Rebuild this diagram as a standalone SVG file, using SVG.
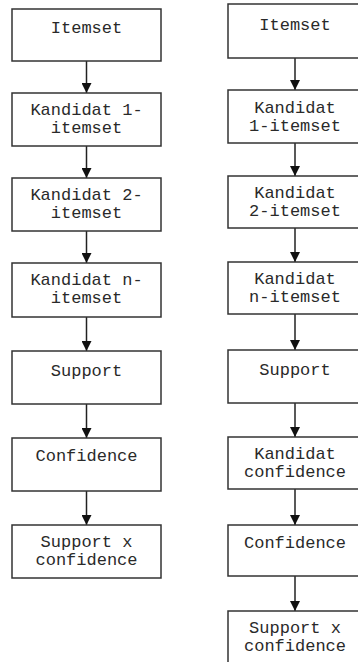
<svg xmlns="http://www.w3.org/2000/svg" width="358" height="662" viewBox="0 0 358 662">
<style>
.box{fill:#fff;stroke:#333;stroke-width:1.5}
.t{font-family:"Liberation Mono","Courier New",monospace;font-size:17px;fill:#2a2a2a;text-anchor:middle}
.c{stroke:#222;stroke-width:1.5;fill:none}
</style>
<defs>
<marker id="ah" markerWidth="10" markerHeight="10" refX="10" refY="5" orient="auto" markerUnits="userSpaceOnUse">
<path d="M0,0 L10,5 L0,10 Z" fill="#111"/>
</marker>
</defs>
<rect width="358" height="662" fill="#fff"/>
<g id="connectors">
<line class="c" x1="86.5" y1="61" x2="86.5" y2="93" marker-end="url(#ah)"/>
<line class="c" x1="86.5" y1="146" x2="86.5" y2="178" marker-end="url(#ah)"/>
<line class="c" x1="86.5" y1="231" x2="86.5" y2="263" marker-end="url(#ah)"/>
<line class="c" x1="86.5" y1="317" x2="86.5" y2="351" marker-end="url(#ah)"/>
<line class="c" x1="86.5" y1="404" x2="86.5" y2="438" marker-end="url(#ah)"/>
<line class="c" x1="86.5" y1="491" x2="86.5" y2="525" marker-end="url(#ah)"/>
<line class="c" x1="295" y1="58" x2="295" y2="90" marker-end="url(#ah)"/>
<line class="c" x1="295" y1="143" x2="295" y2="176" marker-end="url(#ah)"/>
<line class="c" x1="295" y1="228" x2="295" y2="262" marker-end="url(#ah)"/>
<line class="c" x1="295" y1="314" x2="295" y2="350" marker-end="url(#ah)"/>
<line class="c" x1="295" y1="403" x2="295" y2="437" marker-end="url(#ah)"/>
<line class="c" x1="295" y1="489" x2="295" y2="525" marker-end="url(#ah)"/>
<line class="c" x1="295" y1="576" x2="295" y2="611" marker-end="url(#ah)"/>
</g>
<g id="L1"><rect class="box" x="12" y="9" width="149" height="52"/><text class="t" x="86.5" y="33">Itemset</text></g>
<g id="L2"><rect class="box" x="12" y="93" width="149" height="53"/><text class="t" x="86.5" y="115">Kandidat 1-</text><text class="t" x="86.5" y="133">itemset</text></g>
<g id="L3"><rect class="box" x="12" y="178" width="149" height="53"/><text class="t" x="86.5" y="200">Kandidat 2-</text><text class="t" x="86.5" y="218">itemset</text></g>
<g id="L4"><rect class="box" x="12" y="263" width="149" height="54"/><text class="t" x="86.5" y="285">Kandidat n-</text><text class="t" x="86.5" y="303">itemset</text></g>
<g id="L5"><rect class="box" x="12" y="351" width="149" height="53"/><text class="t" x="86.5" y="376">Support</text></g>
<g id="L6"><rect class="box" x="12" y="438" width="149" height="53"/><text class="t" x="86.5" y="461">Confidence</text></g>
<g id="L7"><rect class="box" x="12" y="525" width="149" height="53"/><text class="t" x="86.5" y="547">Support x</text><text class="t" x="86.5" y="565">confidence</text></g>
<g id="R1"><rect class="box" x="228" y="4" width="134" height="54"/><text class="t" x="295" y="30">Itemset</text></g>
<g id="R2"><rect class="box" x="228" y="90" width="134" height="53"/><text class="t" x="295" y="113">Kandidat</text><text class="t" x="295" y="131">1-itemset</text></g>
<g id="R3"><rect class="box" x="228" y="176" width="134" height="52"/><text class="t" x="295" y="198">Kandidat</text><text class="t" x="295" y="216">2-itemset</text></g>
<g id="R4"><rect class="box" x="228" y="262" width="134" height="52"/><text class="t" x="295" y="284">Kandidat</text><text class="t" x="295" y="302">n-itemset</text></g>
<g id="R5"><rect class="box" x="228" y="350" width="134" height="53"/><text class="t" x="295" y="375">Support</text></g>
<g id="R6"><rect class="box" x="228" y="437" width="134" height="52"/><text class="t" x="295" y="459">Kandidat</text><text class="t" x="295" y="477">confidence</text></g>
<g id="R7"><rect class="box" x="228" y="525" width="134" height="51"/><text class="t" x="295" y="548">Confidence</text></g>
<g id="R8"><rect class="box" x="228" y="611" width="134" height="56"/><text class="t" x="295" y="633">Support x</text><text class="t" x="295" y="651">confidence</text></g>
</svg>
